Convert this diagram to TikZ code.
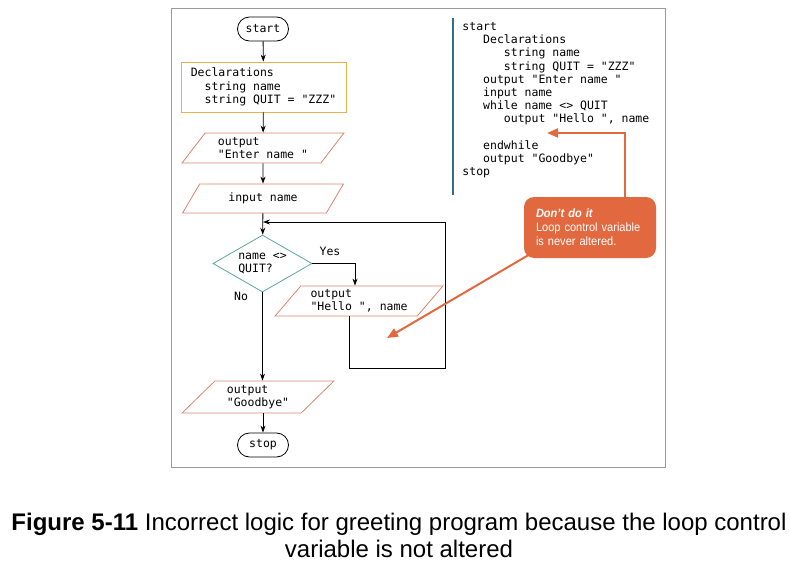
\documentclass[tikz,border=0pt]{standalone}
\usepackage{fontspec}
\setmainfont{Liberation Sans}
\newfontfamily\codefont{DejaVu Sans Mono}
\newfontfamily\notefont[FakeStretch=0.92]{Liberation Sans}
\newfontfamily\capfont{Liberation Sans}
\usetikzlibrary{shapes.geometric, arrows.meta}

\definecolor{framegray}{HTML}{9A9A9A}
\definecolor{declorange}{HTML}{E9B04C}
\definecolor{iored}{HTML}{D98471}
\definecolor{askteal}{HTML}{5EA69C}
\definecolor{barblue}{HTML}{2F6F8C}
\definecolor{noteorange}{HTML}{E2693F}

\begin{document}
\begin{tikzpicture}[x=1pt, y=-1pt, line width=0.8pt,
  code/.style={font=\codefont\fontsize{11.5}{13.2}\selectfont, align=left},
  term/.style={code, draw, rounded corners=12pt, minimum width=51pt, minimum height=24pt, inner sep=0pt},
  declbox/.style={code, draw=declorange, minimum width=165pt, minimum height=50pt, inner sep=0pt},
  io/.style={code, draw=iored, trapezium, trapezium left angle=50, trapezium right angle=130,
    trapezium stretches=true, inner sep=0pt},
  ask/.style={code, draw=askteal, diamond, aspect=1.74, minimum width=99pt, minimum height=57pt, inner sep=0pt},
  flow/.style={-{Stealth[length=7pt, width=5pt]}},
  note/.style={fill=noteorange, rounded corners=10pt, text=white, align=left, text width=108pt,
    inner xsep=12pt, minimum height=61pt, font=\notefont\fontsize{12}{14}\selectfont},
  noteline/.style={draw=noteorange, line width=2pt, -{Triangle[length=11pt, width=9pt]}}]
  \useasboundingbox (0,0) rectangle (790,562);
  \draw[framegray] (171,8) rectangle (665,467);

  % flowchart
  \node[term] (start) at (263,29) {start};
  \node[declbox] (decl) at (263.5,87) {Declarations\\\phantom{nn}string name\\\phantom{nn}string QUIT = "ZZZ"};
  \node[io, minimum width=162pt, minimum height=30pt] (enter) at (263,148) {output\\"Enter name "};
  \node[io, minimum width=162pt, minimum height=29pt] (inname) at (263,198.5) {input name};
  \node[ask] (check) at (262.5,263.5) {name <>\\QUIT?};
  \node[io, trapezium left angle=47, trapezium right angle=133,
    minimum width=168pt, minimum height=30pt] (hello) at (359,301) {output\\"Hello ", name};
  \node[io, trapezium left angle=45, trapezium right angle=135,
    minimum width=152pt, minimum height=32pt] (bye) at (258,397) {output\\"Goodbye"};
  \node[term] (stop) at (263,445) {stop};
  \node[code] (yes) at (330,251) {Yes};
  \node[code] (no) at (241,296) {No};

  \coordinate (join) at (263,222);
  \coordinate (loopbl) at (349,368);
  \coordinate (loopbr) at (445,368);

  \draw[flow] (start) -- (decl);
  \draw[flow] (decl) -- (enter);
  \draw[flow] (enter) -- (inname);
  \draw[flow] (inname) -- (check);
  \draw[flow] (check.east) -| ([xshift=-4pt]hello.north);
  \draw[flow] (check.south) -- (check.south |- bye.north);
  \draw[flow] (stop.north |- bye.south) -- (stop);
  \draw[flow] (hello.south -| loopbl) -- (loopbl) -- (loopbr) |- (join);

  % pseudocode
  \draw[barblue, line width=2.5pt] (453,18) -- (453,195);
  \node[code, anchor=north west, inner sep=0pt] (pseudo) at (462,22) {start\\
    \phantom{nnn}Declarations\\
    \phantom{nnnnnn}string name\\
    \phantom{nnnnnn}string QUIT = "ZZZ"\\
    \phantom{nnn}output "Enter name "\\
    \phantom{nnn}input name\\
    \phantom{nnn}while name <> QUIT\\
    \phantom{nnnnnn}output "Hello ", name\\[13.2pt]
    \phantom{nnn}endwhile\\
    \phantom{nnn}output "Goodbye"\\
    stop};

  % callout
  \node[note] (callout) at (590,227.5) {\textbf{\textit{Don’t do it}}\\Loop control variable\\is never altered.};
  \coordinate (upturn) at (625,133);
  \coordinate (codetip) at (547,133);
  \coordinate (looptip) at (387,338);
  \draw[noteline] (callout.north -| upturn) -- (upturn) -- (codetip);
  \draw[noteline] ([shift={(6,-4)}]callout.south west) -- (looptip);

  % caption
  \node[font=\capfont\fontsize{24}{27}\selectfont, align=center] (caption) at (399,535)
    {\textbf{Figure 5-11} Incorrect logic for greeting program because the loop control\\variable is not altered};
\end{tikzpicture}
\end{document}
